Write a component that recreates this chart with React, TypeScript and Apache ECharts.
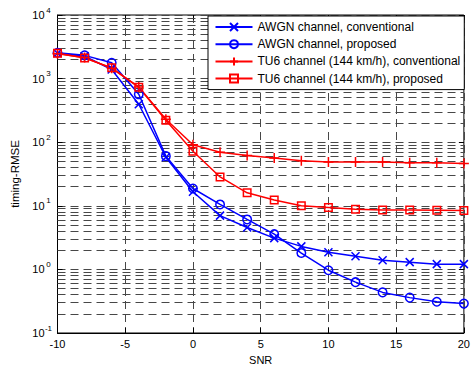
import React, { useEffect, useRef } from 'react';
import * as echarts from 'echarts';

const snr = [-10, -8, -6, -4, -2, 0, 2, 4, 6, 8, 10, 12, 14, 16, 18, 20];
const awgnConventional = [2500, 2250, 1390, 395, 58, 16.6, 7.0, 4.56, 3.1, 2.3, 1.86, 1.61, 1.39, 1.3, 1.21, 1.21];
const awgnProposed = [2550, 2320, 1770, 566, 60.4, 18.7, 10.5, 6.1, 3.58, 1.81, 0.97, 0.63, 0.435, 0.36, 0.31, 0.29];
const tu6Conventional = [2450, 2150, 1450, 740, 230, 91, 69.7, 61.8, 56.2, 51, 48.8, 48.8, 48.8, 47.5, 47.5, 46.4];
const tu6Proposed = [2500, 2100, 1480, 730, 222, 72, 28.4, 16.0, 12.3, 10.0, 9.44, 8.8, 8.6, 8.6, 8.5, 8.4];
const seriesNames = [
  'AWGN channel, conventional',
  'AWGN channel, proposed',
  'TU6 channel (144 km/h), conventional',
  'TU6 channel (144 km/h), proposed',
];
const decades = [-1, 0, 1, 2, 3];
const minorMultipliers = [2, 3, 4, 5, 6, 7, 8, 9];

const FONT = 'Liberation Sans, Arial, Helvetica, sans-serif';
const SYM_X = 'path://M0,0L10,10M10,0L0,10';
const SYM_PLUS = 'path://M5,0L5,10M0,5L10,5';
const BLUE = '#0000ff';
const RED = '#ff0000';
const GRID = '#474747';

function mkSeries(name: string, values: number[], color: string, symbol: string, size: number) {
  return {
    name,
    type: 'line',
    z: 3,
    data: snr.map((x, i) => [x, values[i]]),
    symbol,
    symbolSize: size,
    lineStyle: { color, width: 1.5 },
    itemStyle: { color: 'rgba(0,0,0,0)', borderColor: color, borderWidth: 1.5 },
    emphasis: { disabled: true },
  };
}

export default function App() {
  const ref = useRef<HTMLDivElement>(null);
  useEffect(() => {
    document.body.style.margin = '0';
    const chart = echarts.init(ref.current!, null, { renderer: 'svg' });
    const minorLines: any[] = [];
    decades.forEach((d) => {
      minorMultipliers.forEach((m) => {
        minorLines.push({ yAxis: m * Math.pow(10, d) });
      });
    });
    chart.setOption({
      animation: false,
      backgroundColor: '#ffffff',
      grid: {
        left: 57.5,
        right: 6,
        top: 15,
        bottom: 34.3,
        show: true,
        borderColor: '#000',
        borderWidth: 1,
        backgroundColor: 'transparent',
      },
      legend: {
        data: seriesNames,
        orient: 'vertical',
        left: 208,
        top: 16,
        z: 50,
        padding: [5, 4, 5, 6.5],
        itemWidth: 37,
        itemHeight: 10,
        itemGap: 5.2,
        backgroundColor: '#ffffff',
        borderColor: '#000',
        borderWidth: 1,
        borderRadius: 0,
        textStyle: { fontSize: 12, fontFamily: FONT, color: '#000' },
      },
      xAxis: [
        {
          type: 'value',
          min: -10,
          max: 20,
          interval: 5,
          name: 'SNR',
          nameLocation: 'middle',
          nameGap: 21,
          nameTextStyle: { fontSize: 11, fontFamily: FONT, color: '#000' },
          axisLine: { show: true, onZero: false, lineStyle: { color: '#000', width: 1 } },
          axisTick: { show: true, inside: true, length: 5, lineStyle: { color: '#000' } },
          axisLabel: { fontSize: 11, fontFamily: FONT, color: '#000', margin: 5 },
          splitLine: { show: true, lineStyle: { color: GRID, width: 1, type: [8, 5] } },
        },
        {
          type: 'value',
          position: 'top',
          min: -10,
          max: 20,
          interval: 5,
          axisLine: { show: false, onZero: false },
          axisTick: { show: true, inside: true, length: 5, lineStyle: { color: '#000' } },
          axisLabel: { show: false },
          splitLine: { show: false },
        },
      ],
      yAxis: [
        {
          type: 'log',
          logBase: 10,
          min: 0.1,
          max: 10000,
          name: 'timing-RMSE',
          nameLocation: 'middle',
          nameGap: 30.5,
          nameTextStyle: { fontSize: 11.5, fontFamily: FONT, color: '#000' },
          axisLine: { show: true, onZero: false, lineStyle: { color: '#000', width: 1 } },
          axisTick: { show: true, inside: true, length: 5, lineStyle: { color: '#000' } },
          axisLabel: {
            margin: 5,
            showMinLabel: true,
            showMaxLabel: true,
            formatter: (v: number) => {
              const e = Math.round(Math.log10(v));
              return `{b|10}{s|${e}}`;
            },
            rich: {
              b: { fontSize: 11, lineHeight: 18, fontFamily: FONT, color: '#000' },
              s: { fontSize: 8, lineHeight: 9, verticalAlign: 'top', width: 8, align: 'left', fontFamily: FONT, color: '#000' },
            },
          },
          splitLine: { show: true, lineStyle: { color: GRID, width: 1, type: [8, 5] } },
        },
        {
          type: 'log',
          logBase: 10,
          position: 'right',
          min: 0.1,
          max: 10000,
          axisLine: { show: false, onZero: false },
          axisTick: { show: true, inside: true, length: 5, lineStyle: { color: '#000' } },
          axisLabel: { show: false },
          splitLine: { show: false },
        },
      ],
      series: [
        {
          name: 'gridlines',
          type: 'line',
          z: 1,
          data: [],
          silent: true,
          markLine: {
            silent: true,
            z: 1,
            symbol: ['none', 'none'],
            label: { show: false },
            lineStyle: { color: GRID, width: 1, type: [8, 5] },
            emphasis: { disabled: true },
            data: minorLines,
          },
        },
        mkSeries(seriesNames[0], awgnConventional, BLUE, SYM_X, 8),
        mkSeries(seriesNames[1], awgnProposed, BLUE, 'circle', 8.5),
        mkSeries(seriesNames[2], tu6Conventional, RED, SYM_PLUS, 10),
        mkSeries(seriesNames[3], tu6Proposed, RED, 'rect', 7.5),
      ],
    });
    return () => chart.dispose();
  }, []);
  return <div ref={ref} style={{ width: 473, height: 370 }} />;
}
